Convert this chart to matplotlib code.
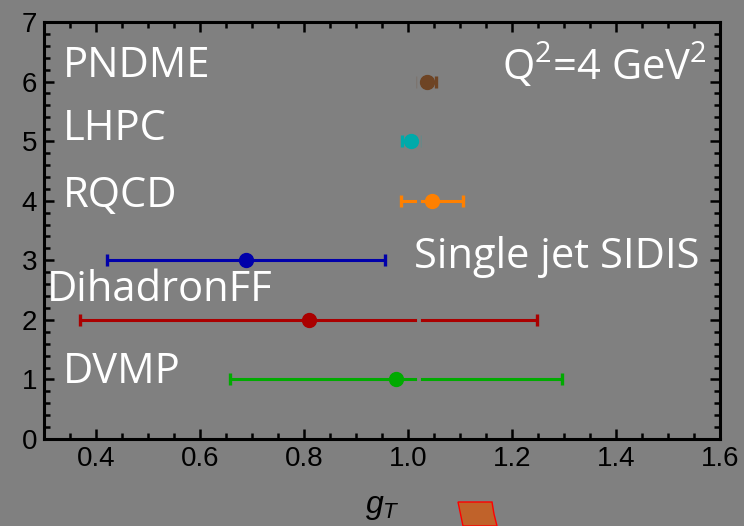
import numpy as np
import matplotlib
matplotlib.use("Agg")
import matplotlib.pyplot as plt
from matplotlib.patches import Polygon
from matplotlib.transforms import IdentityTransform

plt.rcParams['mathtext.fontset'] = 'custom'
plt.rcParams['mathtext.rm'] = 'Open Sans'
plt.rcParams['mathtext.it'] = 'Liberation Sans:italic'

# g_T results at Q^2 = 4 GeV^2
labels = ["DVMP", "DihadronFF", "Single jet SIDIS", "RQCD", "LHPC", "PNDME"]
ypos = [1, 2, 3, 4, 5, 6]
gT = [0.977, 0.809, 0.689, 1.046, 1.005, 1.037]
gT_err = [0.32, 0.44, 0.267, 0.06, 0.016, 0.017]
colors = ["#00AA00", "#AA0000", "#0000AA", "#FF8000", "#00AAAA", "#6E4424"]

# label anchor points (data coords)
label_x = [0.337, 0.306, 1.012, 0.337, 0.337, 0.337]
label_y = [0.94, 2.32, 2.87, 3.89, 5.02, 6.07]

bg = "#808080"
fig = plt.figure(figsize=(7.44, 5.26), dpi=100, facecolor=bg)
ax = fig.add_axes([0.0591, 0.1654, 0.9086, 0.7928], facecolor=bg)

for x, y, e, c in zip(gT, ypos, gT_err, colors):
    ax.errorbar(x, y, xerr=e, fmt='none', ecolor=c, elinewidth=2.2,
                capsize=4.5, capthick=2.4, zorder=2)

# thin gap seen in the error bars
ax.axvline(1.021, ymin=0.02, ymax=0.98, color=bg, lw=2.8, zorder=2.3)

for x, y, c in zip(gT, ypos, colors):
    ax.plot(x, y, 'o', color=c, ms=10, zorder=4)

for t, x, y in zip(labels, label_x, label_y):
    ax.text(x, y, t, color="white", fontsize=30, family="Open Sans",
            ha="left", va="baseline", zorder=5)

ax.text(1.575, 6.02, "Q$^{2}$=4 GeV$^{2}$", color="white", fontsize=30,
        family="Open Sans", ha="right", va="baseline", zorder=5)

ax.set_xlim(0.3, 1.6)
ax.set_ylim(0, 7)
ax.set_xticks([0.4, 0.6, 0.8, 1.0, 1.2, 1.4, 1.6])
ax.set_xticklabels(["0.4", "0.6", "0.8", "1.0", "1.2", "1.4", "1.6"])
ax.set_xticks(np.arange(0.35, 1.6, 0.05), minor=True)
ax.set_yticks(range(0, 8))
ax.set_yticks(np.arange(0, 7.01, 0.2), minor=True)

for s in ax.spines.values():
    s.set_linewidth(2.2)
ax.tick_params(which='both', direction='in', top=True, right=True,
               width=1.8, labelsize=20, pad=5)
ax.tick_params(which='major', length=7)
ax.tick_params(which='minor', length=4)
for lab in ax.get_xticklabels() + ax.get_yticklabels():
    lab.set_family("Liberation Sans")

ax.set_xlabel("$g_T$", fontsize=23, labelpad=14)

# fragment of an orange shape from the slide below the chart
shape = Polygon([[458, 24], [492, 24], [494, 12], [497, 0], [463, 0]],
                closed=True, facecolor="#C0622A", edgecolor="red", lw=1)
shape.set_transform(IdentityTransform())
fig.patches.append(shape)

fig.savefig("out.png", dpi=100, facecolor=bg)
